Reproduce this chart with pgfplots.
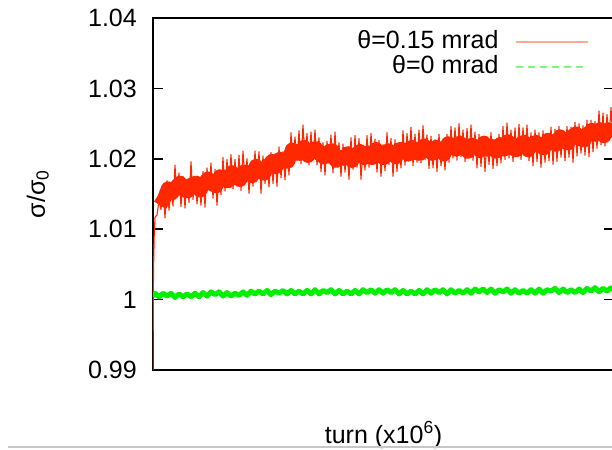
\documentclass[border=0pt]{standalone}
\usepackage{fontspec}
\setmainfont{Liberation Sans}
\usepackage{pgfplots}
\pgfplotsset{compat=1.18}
\definecolor{sigred}{RGB}{255,40,0}
\definecolor{siggreen}{RGB}{0,240,0}
\begin{document}
\fontsize{25}{30}\selectfont
\begin{tikzpicture}
\begin{axis}[
    name=ax, at={(0,0)}, anchor=south west,
    scale only axis, width=461pt, height=352pt,
    xmin=153, xmax=614, ymin=0.99, ymax=1.04,
    xtick=\empty,
    ytick={0.99,1,1.01,1.02,1.03,1.04},
    yticklabels={0.99,1,1.01,1.02,1.03,1.04},
    yticklabel style={inner sep=0pt, xshift=-16pt},
    major tick length=10pt,
    tick style={black, line width=1.5pt},
    axis line style={black, line width=1.5pt},
    ylabel={σ/σ\textsubscript{0}},
    ylabel style={at={(axis description cs:-0.2343,0.5)}, anchor=base},
    xlabel={turn (x10\textsuperscript{6})},
    xlabel style={at={(axis description cs:0.5,-0.2074)}, anchor=base},
    legend plot pos=right,
    legend image code/.code={\draw[#1] (0pt,0pt) -- (72pt,0pt);},
    legend style={at={(axis description cs:0.9458,0.9645)}, anchor=north east,
        draw=none, fill=none, inner sep=0pt, outer sep=0pt,
        row sep=2pt, column sep=17pt,
        nodes={inner sep=0pt, text height=18pt, text depth=5pt},
        cells={anchor=east}},
]
% theta = 0.15 mrad: dense core of the noisy band
\addplot[sigred, line width=14pt, line join=round, forget plot] coordinates {
(160,1.0134) (164,1.0143) (168,1.0158) (172,1.0151) (176,1.0160) (180,1.0166)
(184,1.0155) (188,1.0154) (192,1.0164) (196,1.0166) (200,1.0155) (204,1.0165)
(208,1.0172) (212,1.0164) (216,1.0161) (220,1.0175) (224,1.0174) (228,1.0168)
(232,1.0181) (236,1.0173) (240,1.0170) (244,1.0182) (248,1.0181) (252,1.0175)
(256,1.0190) (260,1.0183) (264,1.0179) (268,1.0190) (272,1.0197) (276,1.0188)
(280,1.0200) (284,1.0196) (288,1.0196) (292,1.0213) (296,1.0210) (300,1.0207)
(304,1.0217) (308,1.0204) (312,1.0213) (316,1.0215) (320,1.0206) (324,1.0202)
(328,1.0210) (332,1.0212) (336,1.0197) (340,1.0203) (344,1.0200) (348,1.0208)
(352,1.0197) (356,1.0206) (360,1.0211) (364,1.0201) (368,1.0209) (372,1.0201)
(376,1.0214) (380,1.0205) (384,1.0201) (388,1.0212) (392,1.0209) (396,1.0202)
(400,1.0214) (404,1.0213) (408,1.0206) (412,1.0217) (416,1.0208) (420,1.0207)
(424,1.0219) (428,1.0214) (432,1.0207) (436,1.0217) (440,1.0213) (444,1.0206)
(448,1.0222) (452,1.0220) (456,1.0213) (460,1.0223) (464,1.0215) (468,1.0210)
(472,1.0220) (476,1.0217) (480,1.0211) (484,1.0223) (488,1.0213) (492,1.0218)
(496,1.0210) (500,1.0221) (504,1.0213) (508,1.0225) (512,1.0216) (516,1.0212)
(520,1.0221) (524,1.0224) (528,1.0212) (532,1.0221) (536,1.0224) (540,1.0218)
(544,1.0215) (548,1.0227) (552,1.0224) (556,1.0220) (560,1.0232) (564,1.0224)
(568,1.0222) (572,1.0232) (576,1.0236) (580,1.0228) (584,1.0226) (588,1.0236)
(592,1.0241) (596,1.0234) (600,1.0242) (604,1.0232) (608,1.0242) (612,1.0240)
(614,1.0240)
};
% theta = 0.15 mrad: the noisy trace
\addplot[sigred, line width=1.1pt, line join=round,
    legend image post style={opacity=0.4, line width=1.5pt}] coordinates {
(153,0.99) (153.5,1.004) (154.2,1.009)
(155,1.0117) (157,1.0120) (159,1.0141) (161,1.0128) (163,1.0162) (165,1.0116)
(167,1.0169) (169,1.0127) (171,1.0161) (173,1.0133) (175,1.0191) (177,1.0145)
(179,1.0180) (181,1.0132) (183,1.0175) (185,1.0130) (187,1.0171) (189,1.0138)
(191,1.0196) (193,1.0142) (195,1.0175) (197,1.0136) (199,1.0170) (201,1.0134)
(203,1.0182) (205,1.0131) (207,1.0187) (209,1.0157) (211,1.0194) (213,1.0144)
(215,1.0185) (217,1.0134) (219,1.0184) (221,1.0149) (223,1.0202) (225,1.0154)
(227,1.0199) (229,1.0163) (231,1.0206) (233,1.0157) (235,1.0199) (237,1.0161)
(239,1.0205) (241,1.0155) (243,1.0211) (245,1.0167) (247,1.0200) (249,1.0151)
(251,1.0195) (253,1.0161) (255,1.0211) (257,1.0170) (259,1.0210) (261,1.0151)
(263,1.0204) (265,1.0165) (267,1.0196) (269,1.0160) (271,1.0209) (273,1.0165)
(275,1.0207) (277,1.0161) (279,1.0217) (281,1.0173) (283,1.0210) (285,1.0170)
(287,1.0219) (289,1.0177) (291,1.0237) (293,1.0191) (295,1.0231) (297,1.0197)
(299,1.0240) (301,1.0193) (303,1.0248) (305,1.0199) (307,1.0236) (309,1.0191)
(311,1.0238) (313,1.0200) (315,1.0241) (317,1.0191) (319,1.0230) (321,1.0182)
(323,1.0223) (325,1.0177) (327,1.0225) (329,1.0193) (331,1.0234) (333,1.0180)
(335,1.0238) (337,1.0189) (339,1.0223) (341,1.0175) (343,1.0221) (345,1.0181)
(347,1.0214) (349,1.0171) (351,1.0230) (353,1.0185) (355,1.0233) (357,1.0188)
(359,1.0229) (361,1.0171) (363,1.0219) (365,1.0184) (367,1.0233) (369,1.0188)
(371,1.0236) (373,1.0196) (375,1.0228) (377,1.0181) (379,1.0226) (381,1.0175)
(383,1.0220) (385,1.0183) (387,1.0237) (389,1.0192) (391,1.0229) (393,1.0175)
(395,1.0227) (397,1.0182) (399,1.0223) (401,1.0187) (403,1.0240) (405,1.0191)
(407,1.0236) (409,1.0199) (411,1.0245) (413,1.0190) (415,1.0235) (417,1.0195)
(419,1.0241) (421,1.0194) (423,1.0247) (425,1.0199) (427,1.0234) (429,1.0186)
(431,1.0232) (433,1.0187) (435,1.0227) (437,1.0182) (439,1.0235) (441,1.0190)
(443,1.0224) (445,1.0184) (447,1.0235) (449,1.0195) (451,1.0246) (453,1.0201)
(455,1.0244) (457,1.0198) (459,1.0250) (461,1.0203) (463,1.0241) (465,1.0196)
(467,1.0243) (469,1.0204) (471,1.0248) (473,1.0198) (475,1.0238) (477,1.0187)
(479,1.0235) (481,1.0189) (483,1.0232) (485,1.0182) (487,1.0230) (489,1.0192)
(491,1.0237) (493,1.0186) (495,1.0227) (497,1.0190) (499,1.0235) (501,1.0194)
(503,1.0246) (505,1.0199) (507,1.0251) (509,1.0201) (511,1.0241) (513,1.0196)
(515,1.0244) (517,1.0203) (519,1.0249) (521,1.0199) (523,1.0244) (525,1.0205)
(527,1.0248) (529,1.0197) (531,1.0237) (533,1.0190) (535,1.0241) (537,1.0196)
(539,1.0237) (541,1.0188) (543,1.0240) (545,1.0195) (547,1.0236) (549,1.0197)
(551,1.0245) (553,1.0192) (555,1.0242) (557,1.0196) (559,1.0246) (561,1.0202)
(563,1.0239) (565,1.0197) (567,1.0246) (569,1.0202) (571,1.0245) (573,1.0195)
(575,1.0252) (577,1.0204) (579,1.0250) (581,1.0208) (583,1.0247) (585,1.0205)
(587,1.0255) (589,1.0203) (591,1.0255) (593,1.0210) (595,1.0253) (597,1.0215)
(599,1.0268) (601,1.0220) (603,1.0265) (605,1.0218) (607,1.0263) (609,1.0226)
(611,1.0273) (613,1.0221)
};
\addlegendentry{θ=0.15 mrad}
% theta = 0 mrad
\addplot[siggreen, line width=5pt, line join=round,
    legend image post style={line width=1.2pt, opacity=0.5, dash pattern=on 7pt off 5pt}] coordinates {
(153,1.0004)
(155,1.0009) (159,1.0004) (163,1.0009) (167,1.0005) (171,1.0009) (175,1.0003)
(179,1.0008) (183,1.0004) (187,1.0008) (191,1.0004) (195,1.0009) (199,1.0004)
(203,1.0010) (207,1.0005) (211,1.0011) (215,1.0007) (219,1.0011) (223,1.0005)
(227,1.0010) (231,1.0005) (235,1.0009) (239,1.0006) (243,1.0011) (247,1.0006)
(251,1.0012) (255,1.0008) (259,1.0012) (263,1.0008) (267,1.0013) (271,1.0007)
(275,1.0012) (279,1.0009) (283,1.0013) (287,1.0008) (291,1.0013) (295,1.0008)
(299,1.0012) (303,1.0008) (307,1.0013) (311,1.0008) (315,1.0014) (319,1.0008)
(323,1.0013) (327,1.0010) (331,1.0014) (335,1.0008) (339,1.0013) (343,1.0008)
(347,1.0012) (351,1.0008) (355,1.0013) (359,1.0008) (363,1.0014) (367,1.0010)
(371,1.0014) (375,1.0009) (379,1.0014) (383,1.0009) (387,1.0014) (391,1.0010)
(395,1.0014) (399,1.0008) (403,1.0013) (407,1.0008) (411,1.0012) (415,1.0008)
(419,1.0013) (423,1.0008) (427,1.0014) (431,1.0009) (435,1.0014) (439,1.0010)
(443,1.0014) (447,1.0008) (451,1.0014) (455,1.0009) (459,1.0013) (463,1.0009)
(467,1.0014) (471,1.0009) (475,1.0015) (479,1.0011) (483,1.0015) (487,1.0010)
(491,1.0015) (495,1.0009) (499,1.0014) (503,1.0011) (507,1.0015) (511,1.0009)
(515,1.0014) (519,1.0009) (523,1.0013) (527,1.0009) (531,1.0014) (535,1.0009)
(539,1.0015) (543,1.0009) (547,1.0014) (551,1.0012) (555,1.0016) (559,1.0010)
(563,1.0015) (567,1.0010) (571,1.0014) (575,1.0010) (579,1.0015) (583,1.0010)
(587,1.0016) (591,1.0012) (595,1.0017) (599,1.0011) (603,1.0016) (607,1.0012)
(611,1.0017) (613,1.0015)
};
\addlegendentry{θ=0 mrad}
\end{axis}
% page separator line seen at the bottom of the screenshot
\draw[black!22, line width=1.5pt] ([shift={(-145pt,-77pt)}]ax.south west) -- ([shift={(470pt,-77pt)}]ax.south west);
\pgfresetboundingbox
\path[use as bounding box] ([shift={(-153pt,-79pt)}]ax.south west) rectangle ([shift={(459pt,370pt)}]ax.south west);
\end{tikzpicture}
\end{document}
